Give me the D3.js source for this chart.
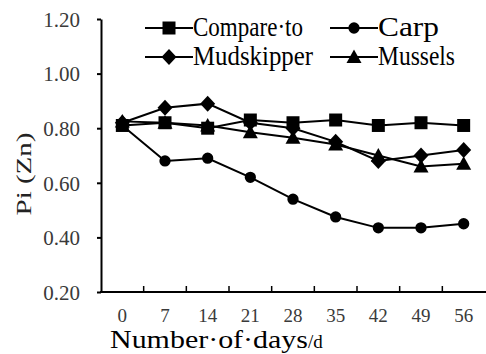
<!DOCTYPE html>
<html>
<head>
<meta charset="utf-8">
<script src="https://cdn.jsdelivr.net/npm/d3@7"></script>
<style>
  body { margin: 0; background: #fff; }
  #chart { width: 486px; height: 354px; }
  svg text { font-family: "Liberation Serif", "Times New Roman", serif; }
</style>
</head>
<body>
<div id="chart"></div>
<script>
// Data
const days = ["0", "7", "14", "21", "28", "35", "42", "49", "56"];
const compareTo = [0.81, 0.82, 0.80, 0.83, 0.82, 0.83, 0.81, 0.82, 0.81];
const carp = [0.81, 0.68, 0.69, 0.62, 0.54, 0.475, 0.435, 0.435, 0.45];
const mudskipper = [0.82, 0.875, 0.89, 0.82, 0.80, 0.75, 0.68, 0.70, 0.72];
const mussels = [0.825, 0.82, 0.81, 0.785, 0.765, 0.74, 0.70, 0.66, 0.67];
const yTicks = [0.2, 0.4, 0.6, 0.8, 1.0, 1.2];
const seriesNames = ["Compare·to", "Carp", "Mudskipper", "Mussels"];

const width = 486;
const height = 354;
const serif = "'Liberation Serif', 'Times New Roman', serif";

const svg = d3.select("#chart")
    .append("svg")
    .attr("width", width)
    .attr("height", height)
    .attr("font-family", serif)
    .attr("viewBox", `0 0 ${width} ${height}`);

// Scales
const x = d3.scaleBand().domain(days).range([101, 485]);
const y = d3.scaleLinear().domain([0.2, 1.2]).range([292, 19]);

// Marker shapes (drawn around 0,0)
function markerPath(type) {
    if (type === "square") return "M-6.5,-6.5H6.5V6.5H-6.5Z";
    if (type === "circle") return d3.symbol(d3.symbolCircle, 100)();
    if (type === "diamond") return "M0,-8L7.5,0L0,8L-7.5,0Z";
    return "M0,-7.5L7.5,6L-7.5,6Z"; // triangle
}

const series = [
    { name: seriesNames[0], values: compareTo, marker: "square" },
    { name: seriesNames[1], values: carp, marker: "circle" },
    { name: seriesNames[2], values: mudskipper, marker: "diamond" },
    { name: seriesNames[3], values: mussels, marker: "triangle" }
];

// Y axis
const yAxis = svg.append("g")
    .attr("transform", "translate(101,0)")
    .call(d3.axisLeft(y).tickValues(yTicks).tickFormat(d3.format(".2f")).tickSize(4).tickSizeOuter(0))
    .attr("font-family", serif);
yAxis.select(".domain").attr("stroke", "#000").attr("stroke-width", 2);
yAxis.selectAll(".tick line").attr("stroke", "#000").attr("stroke-width", 2);
yAxis.selectAll(".tick text")
    .attr("x", -21)
    .attr("dy", "0.35em")
    .attr("fill", "#3a3a3a")
    .style("font-size", "21px");

// X axis: ticks between categories, pointing up
const xAxis = svg.append("g").attr("transform", "translate(0,292)");
xAxis.append("line")
    .attr("x1", 100).attr("x2", 486)
    .attr("stroke", "#000").attr("stroke-width", 2);
xAxis.selectAll(".xtick")
    .data(days.slice(1))
    .enter()
    .append("line")
    .attr("class", "xtick")
    .attr("x1", d => x(d)).attr("x2", d => x(d))
    .attr("y1", 0).attr("y2", -6)
    .attr("stroke", "#000").attr("stroke-width", 1.5);
xAxis.selectAll(".xlabel")
    .data(days)
    .enter()
    .append("text")
    .attr("class", "xlabel")
    .attr("x", d => x(d) + x.bandwidth() / 2)
    .attr("y", 29.5)
    .attr("text-anchor", "middle")
    .attr("fill", "#3a3a3a")
    .style("font-size", "19px")
    .text(d => d);

// Axis titles
const xTitle = svg.append("text")
    .attr("x", 110)
    .attr("y", 348)
    .attr("fill", "#000");
xTitle.append("tspan")
    .style("font-size", "25px")
    .attr("textLength", 198)
    .attr("lengthAdjust", "spacingAndGlyphs")
    .text("Number·of·days");
xTitle.append("tspan")
    .style("font-size", "19px")
    .text("/d");

svg.append("text")
    .attr("transform", "translate(31,174) rotate(-90)")
    .attr("text-anchor", "middle")
    .attr("fill", "#222")
    .style("font-size", "21px")
    .attr("textLength", 83)
    .attr("lengthAdjust", "spacingAndGlyphs")
    .text("Pi (Zn)");

// Lines and markers
const line = d3.line()
    .x((d, i) => x(days[i]) + x.bandwidth() / 2)
    .y(d => y(d));

const groups = svg.selectAll(".series")
    .data(series)
    .enter()
    .append("g")
    .attr("class", "series");

groups.append("path")
    .attr("d", d => line(d.values))
    .attr("fill", "none")
    .attr("stroke", "#000")
    .attr("stroke-width", 2);

groups.each(function (s) {
    d3.select(this).selectAll(".pt")
        .data(s.values)
        .enter()
        .append("path")
        .attr("class", "pt")
        .attr("transform", (d, i) => `translate(${x(days[i]) + x.bandwidth() / 2},${y(d)})`)
        .attr("d", markerPath(s.marker))
        .attr("fill", "#000");
});

// Legend
const legendItems = [
    { s: series[0], lx: 145, ly: 28, size: 27, len: 110 },
    { s: series[1], lx: 330, ly: 28, size: 28, len: 61 },
    { s: series[2], lx: 145, ly: 57, size: 27, len: 120 },
    { s: series[3], lx: 330, ly: 57, size: 27, len: 77 }
];

const legend = svg.selectAll(".legend")
    .data(legendItems)
    .enter()
    .append("g")
    .attr("class", "legend")
    .attr("transform", d => `translate(${d.lx},${d.ly})`);

legend.append("line")
    .attr("x1", 0).attr("x2", 48)
    .attr("stroke", "#000").attr("stroke-width", 2);
legend.append("path")
    .attr("transform", "translate(24,0)")
    .attr("d", d => markerPath(d.s.marker))
    .attr("fill", "#000");
legend.append("text")
    .attr("x", 48)
    .attr("y", 8)
    .attr("fill", "#000")
    .style("font-size", d => `${d.size}px`)
    .attr("textLength", d => d.len)
    .attr("lengthAdjust", "spacingAndGlyphs")
    .text(d => d.s.name);
</script>
</body>
</html>
